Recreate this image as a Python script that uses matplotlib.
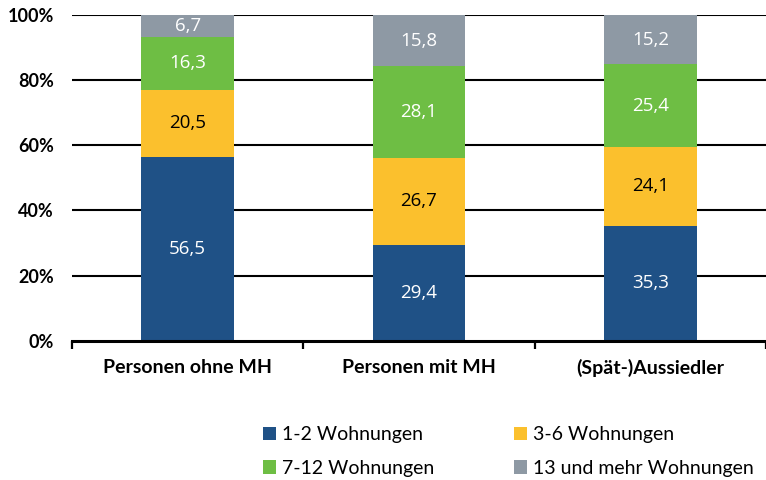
import matplotlib.pyplot as plt
import numpy as np

categories = ['Personen ohne MH', 'Personen mit MH', '(Spät-)Aussiedler']
series = ['1-2 Wohnungen', '3-6 Wohnungen', '7-12 Wohnungen', '13 und mehr Wohnungen']
values = {
    '1-2 Wohnungen': [56.5, 29.4, 35.3],
    '3-6 Wohnungen': [20.5, 26.7, 24.1],
    '7-12 Wohnungen': [16.3, 28.1, 25.4],
    '13 und mehr Wohnungen': [6.7, 15.8, 15.2],
}
colors = ['#1f5186', '#fbc02d', '#6ebe44', '#8e99a4']
text_colors = ['white', 'black', 'white', 'white']

plt.rcParams['font.family'] = ['Lato', 'DejaVu Sans']

fig = plt.figure(figsize=(7.66, 4.8), dpi=100)
ax = fig.add_axes([0.094, 0.29, 0.906, 0.679])

x = np.arange(len(categories))
bottom = np.zeros(len(categories))
handles = []
for name, col, tc in zip(series, colors, text_colors):
    vals = np.array(values[name])
    bars = ax.bar(x, vals, 0.4, bottom=bottom, color=col, zorder=3, label=name)
    handles.append(bars)
    for xi, b, v in zip(x, bottom, vals):
        ax.text(xi, b + v / 2, f'{v:.1f}'.replace('.', ','), ha='center', va='center',
                color=tc, fontsize=13.5, family=['Open Sans', 'DejaVu Sans'], zorder=4)
    bottom += vals

ax.set_xlim(-0.5, 2.5)
ax.set_ylim(0, 100)
ax.set_yticks([0, 20, 40, 60, 80, 100])
ax.set_yticklabels(['0%', '20%', '40%', '60%', '80%', '100%'], fontweight='bold', fontsize=13)
ax.tick_params(axis='y', length=0, pad=13)
for yv in [20, 40, 60, 80, 100]:
    ax.axhline(yv, color='black', lw=1.5, zorder=1)

ax.set_xticks(x)
ax.set_xticklabels(categories, fontweight='bold', fontsize=14)
ax.tick_params(axis='x', which='major', length=0, pad=13)
ax.set_xticks([-0.5, 0.5, 1.5, 2.5], minor=True)
ax.tick_params(axis='x', which='minor', length=6, width=1.6, direction='out', color='black')

for s in ['top', 'right', 'left']:
    ax.spines[s].set_visible(False)
ax.spines['bottom'].set_linewidth(2.2)
ax.spines['bottom'].set_zorder(5)

# legend is filled row-wise in the reference
order = [0, 2, 1, 3]
fig.legend(handles=[handles[i] for i in order], labels=[series[i] for i in order],
           ncol=2, loc='upper left',
           bbox_to_anchor=(0.333, 0.128), frameon=False, fontsize=14,
           handlelength=0.68, handleheight=0.68, handletextpad=0.3,
           columnspacing=4.1, labelspacing=0.85, borderaxespad=0)

fig.savefig('out.png', dpi=100)
